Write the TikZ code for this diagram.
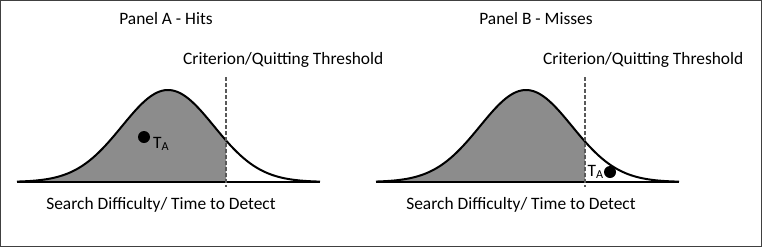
\documentclass[tikz,border=0pt]{standalone}
\usepackage{fontspec}
\setmainfont{Carlito}
\usetikzlibrary{positioning}

\begin{document}
\begin{tikzpicture}[x=1pt, y=-1pt,
  every node/.style={font=\fontsize{17.4}{20}\selectfont, inner sep=0pt},
  curveline/.style={line width=2pt, black},
  critline/.style={line width=2pt, black!65, dash pattern=on 4pt off 2pt},
  areafill/.style={fill=black!45},
  target/.style={circle, fill=black, minimum size=12pt}]

% frame
\draw[black!75, line width=1pt] (0.5,0.5) rectangle (761.5,246.5);

% Panel A: Hits
\begin{scope}
\node (titleA) at (166,19) {Panel A - Hits};
\node[anchor=west] (critA) at (183,60) {Criterion/Quitting Threshold};
\fill[areafill] (17,182) -- plot[domain=17:226, samples=80] (\x, {182-92*exp(-0.5*((\x-168)/46)^2)}) -- (226,182) -- cycle;
\draw[curveline] plot[domain=17:320, samples=120] (\x, {182-92*exp(-0.5*((\x-168)/46)^2)});
\draw[curveline] (17,182) -- (320,182);
\coordinate (topA) at (226,77);
\coordinate (botA) at (226,187);
\draw[critline] (topA) -- (botA);
\node[target] (dotA) at (144,137) {};
\node[anchor=west] (labA) at (153,144) {T\textsubscript{A}};
\node (axisA) at (161,205) {Search Difficulty/ Time to Detect};
\end{scope}

% Panel B: Misses
\begin{scope}[xshift=358pt]
\node (titleB) at (178,19) {Panel B - Misses};
\node[anchor=west] (critB) at (185,60) {Criterion/Quitting Threshold};
\fill[areafill] (18,182) -- plot[domain=18:227, samples=80] (\x, {182-92*exp(-0.5*((\x-168)/46)^2)}) -- (227,182) -- cycle;
\draw[curveline] plot[domain=18:321, samples=120] (\x, {182-92*exp(-0.5*((\x-168)/46)^2)});
\draw[curveline] (18,182) -- (321,182);
\coordinate (topB) at (227,77);
\coordinate (botB) at (227,187);
\draw[critline] (topB) -- (botB);
\node[target] (dotB) at (252,172) {};
\node[anchor=east] (labB) at (dotB.west) {T\textsubscript{A}};
\node (axisB) at (163,205) {Search Difficulty/ Time to Detect};
\end{scope}

\end{tikzpicture}
\end{document}
